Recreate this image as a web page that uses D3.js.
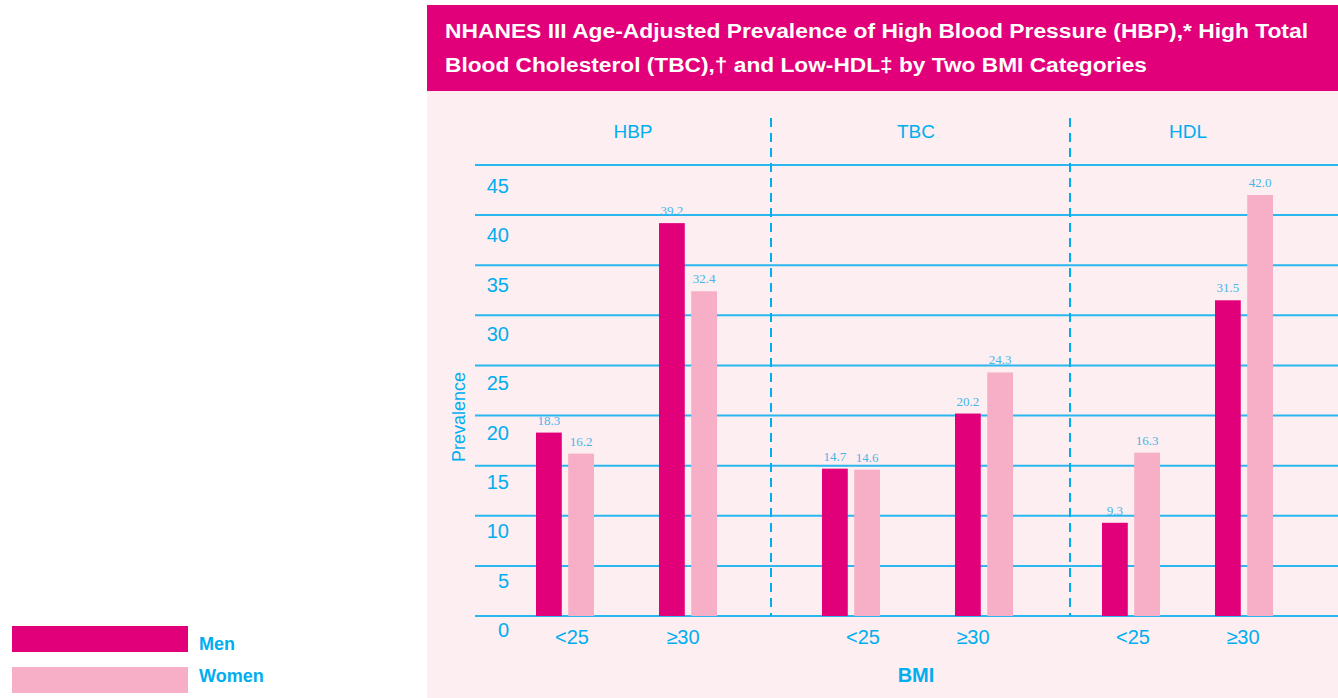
<!DOCTYPE html>
<html><head><meta charset="utf-8">
<script src="https://cdn.jsdelivr.net/npm/d3@7"></script>
<style>
html,body{margin:0;padding:0;background:#fff;}
svg{display:block;}
</style></head>
<body>
<svg id="chart" width="1338" height="698"></svg>
<script>
// ---- data ----
const panels = ["HBP", "TBC", "HDL"];
const bmiCategories = ["<25", "\u226530"];
const series = ["Men", "Women"];
const menValues =   [18.3, 39.2, 14.7, 20.2, 9.3, 31.5];   // HBP<25, HBP>=30, TBC<25, TBC>=30, HDL<25, HDL>=30
const womenValues = [16.2, 32.4, 14.6, 24.3, 16.3, 42.0];
const yTicks = [0, 5, 10, 15, 20, 25, 30, 35, 40, 45];
const titleLines = [
  "NHANES III Age-Adjusted Prevalence of High Blood Pressure (HBP),* High Total",
  "Blood Cholesterol (TBC),\u2020 and Low-HDL\u2021 by Two BMI Categories"
];
const yLabel = "Prevalence";
const xLabel = "BMI";

// ---- layout ----
const svg = d3.select("#chart");
const MEN = "#e2007a", WOMEN = "#f6afc6", BLUE = "#00aeef", BG = "#fdeef1";
const groups = [];
panels.forEach(p => bmiCategories.forEach(b => groups.push(p + "|" + b)));

const y = d3.scaleLinear().domain([0, 45]).range([616, 165]);
const yLabelPos = d3.scaleLinear().domain([0, 45]).range([630, 186]);
const xGroup = d3.scaleOrdinal().domain(groups).range([565, 688, 851, 984, 1131, 1244]);
const xTickPos = d3.scaleOrdinal().domain(groups).range([572, 683, 863, 973, 1133, 1243]);
const xSub = d3.scaleBand().domain(series).range([-29, 29]).paddingInner(0.2);
const panelCenter = d3.scaleOrdinal().domain(panels).range([633, 916, 1188]);
const dividerX = [771, 1070];
const FONT = "Liberation Sans, Arial, sans-serif";

// backgrounds
svg.append("rect").attr("x", 427).attr("y", 90).attr("width", 911).attr("height", 608).attr("fill", BG);
svg.append("rect").attr("x", 427).attr("y", 5).attr("width", 911).attr("height", 86).attr("fill", MEN);

// title
svg.selectAll("text.title").data(titleLines).join("text")
  .attr("class", "title")
  .attr("x", 445).attr("y", (d, i) => 38 + i * 34)
  .attr("fill", "#fff").attr("font-family", FONT)
  .attr("font-weight", "bold").attr("font-size", 20)
  .attr("textLength", (d, i) => i === 0 ? 863 : 702).attr("lengthAdjust", "spacingAndGlyphs")
  .text(d => d);

// gridlines
svg.append("g").selectAll("line").data(yTicks).join("line")
  .attr("x1", 475).attr("x2", 1338)
  .attr("y1", d => y(d)).attr("y2", d => y(d))
  .attr("stroke", "#2ab6ee").attr("stroke-width", 2);

// y tick labels (placed just below each gridline)
svg.append("g").selectAll("text").data(yTicks).join("text")
  .attr("x", 509).attr("y", d => yLabelPos(d))
  .attr("dy", "0.35em")
  .attr("text-anchor", "end")
  .attr("fill", BLUE).attr("font-family", FONT).attr("font-size", 20)
  .text(d => d);

// y axis label
svg.append("text")
  .attr("transform", "translate(465,417) rotate(-90)")
  .attr("text-anchor", "middle")
  .attr("fill", BLUE).attr("font-family", FONT).attr("font-size", 18)
  .text(yLabel);

// dividers
svg.append("g").selectAll("line").data(dividerX).join("line")
  .attr("x1", d => d).attr("x2", d => d).attr("y1", 118).attr("y2", 616)
  .attr("stroke", BLUE).attr("stroke-width", 2).attr("stroke-dasharray", "9,6");

// panel labels
svg.append("g").selectAll("text").data(panels).join("text")
  .attr("x", d => panelCenter(d)).attr("y", 138)
  .attr("text-anchor", "middle")
  .attr("fill", BLUE).attr("font-family", FONT).attr("font-size", 19)
  .text(d => d);

// bars
const barData = [];
groups.forEach((g, i) => {
  barData.push({g, s: "Men", v: menValues[i]});
  barData.push({g, s: "Women", v: womenValues[i]});
});
svg.append("g").selectAll("rect").data(barData).join("rect")
  .attr("x", d => xGroup(d.g) + xSub(d.s))
  .attr("y", d => y(d.v))
  .attr("width", xSub.bandwidth())
  .attr("height", d => y(0) - y(d.v))
  .attr("fill", d => d.s === "Men" ? MEN : WOMEN);

// value labels
svg.append("g").selectAll("text").data(barData).join("text")
  .attr("x", d => xGroup(d.g) + xSub(d.s) + xSub.bandwidth() / 2)
  .attr("y", d => y(d.v) - 8)
  .attr("text-anchor", "middle")
  .attr("fill", "#45b6ea").attr("font-family", "Liberation Serif, Times New Roman, serif").attr("font-size", 13)
  .text(d => d.v.toFixed(1));

// x tick labels
svg.append("g").selectAll("text").data(groups).join("text")
  .attr("x", d => xTickPos(d)).attr("y", 644)
  .attr("text-anchor", "middle")
  .attr("fill", BLUE).attr("font-family", FONT).attr("font-size", 20)
  .text(d => d.split("|")[1]);

// x axis label
svg.append("text")
  .attr("x", 916).attr("y", 682).attr("text-anchor", "middle")
  .attr("fill", BLUE).attr("font-family", FONT)
  .attr("font-weight", "bold").attr("font-size", 20)
  .text(xLabel);

// legend
const legendRectY = d3.scaleOrdinal().domain(series).range([626, 667]);
const legendTextY = d3.scaleOrdinal().domain(series).range([650, 682]);
const legend = svg.append("g");
legend.selectAll("rect").data(series).join("rect")
  .attr("x", 12).attr("y", d => legendRectY(d)).attr("width", 176).attr("height", 26)
  .attr("fill", d => d === "Men" ? MEN : WOMEN);
legend.selectAll("text").data(series).join("text")
  .attr("x", 199).attr("y", d => legendTextY(d))
  .attr("fill", BLUE).attr("font-family", FONT)
  .attr("font-weight", "bold").attr("font-size", 18)
  .text(d => d);
</script>
</body></html>
